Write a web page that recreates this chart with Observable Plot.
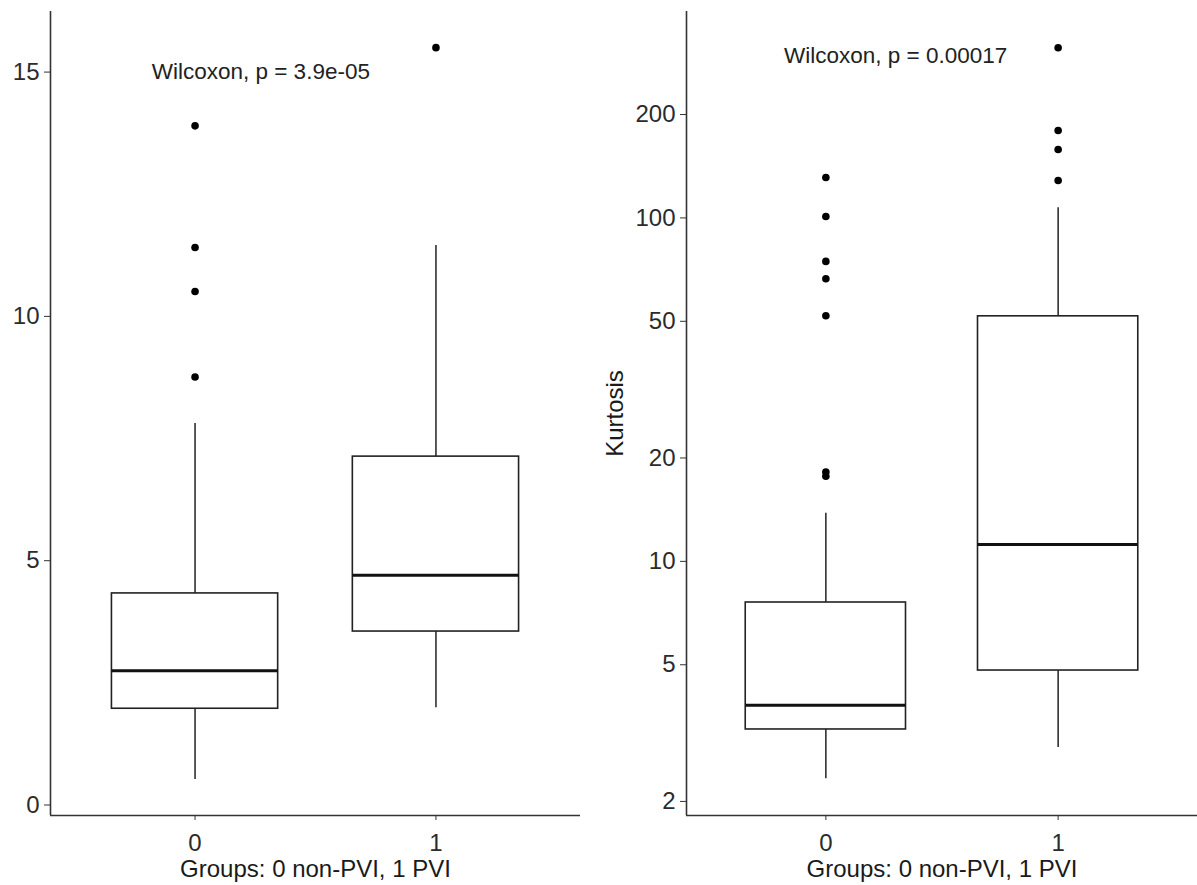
<!DOCTYPE html>
<html><head><meta charset="utf-8">
<script src="https://cdn.jsdelivr.net/npm/d3@7"></script>
<script src="https://cdn.jsdelivr.net/npm/@observablehq/plot@0.6"></script>
<style>
body{margin:0;background:#fff;}
#wrap{position:relative;width:1197px;height:885px;font-family:"Liberation Sans",Arial,sans-serif;background:#fff;}
#left,#right{position:absolute;top:0;}
#left{left:0px}
#right{left:590px}
</style></head><body><div id="wrap"><div id="left"></div><div id="right"></div></div>
<script>
// categories
const groups = [1, 2];
const groupLabels = ["0", "1"];
const xTitle = "Groups: 0 non-PVI, 1 PVI";

// left panel (linear), per group summary statistics
const leftLowerWhisker = [0.52, 1.99];
const leftQ1 = [1.97, 3.55];
const leftMedian = [2.75, 4.70];
const leftQ3 = [4.33, 7.13];
const leftUpperWhisker = [7.81, 11.45];
const leftOutliers0 = [13.90, 11.41, 10.51, 8.76];
const leftOutliers1 = [15.50];
const leftTicks = [0, 5, 10, 15];
const leftLabel = "Wilcoxon, p = 3.9e-05";
const leftLabelY = 15;

// right panel (Kurtosis, log scale)
const rightLowerWhisker = [2.33, 2.87];
const rightQ1 = [3.24, 4.81];
const rightMedian = [3.81, 11.2];
const rightQ3 = [7.59, 51.7];
const rightUpperWhisker = [13.8, 107.0];
const rightOutliers0 = [131.1, 100.9, 74.7, 66.5, 51.9, 18.2, 17.7];
const rightOutliers1 = [312.8, 179.7, 158.2, 128.5];
const rightTicks = [2, 5, 10, 20, 50, 100, 200];
const rightLabel = "Wilcoxon, p = 0.00017";
const rightLabelY = 297;
const rightYTitle = "Kurtosis";

const FONT = '"Liberation Sans", Arial, sans-serif';
const HW = 0.345;
const FS = 24;

function panel({lw, q1, med, q3, uw, outs, ticks, yType, yDomain, label, labelY, yTitle, width, marginLeft, marginRight}) {
  const rows = groups.map((g, i) => ({pos: g, lw: lw[i], q1: q1[i], med: med[i], q3: q3[i], uw: uw[i]}));
  const outRows = [];
  outs.forEach((arr, i) => arr.forEach(v => outRows.push({pos: groups[i], v})));
  const xDomain = [0.4, 2.6];
  const marks = [
    Plot.ruleX(rows, {x: "pos", y1: "q3", y2: "uw", stroke: "#222", strokeWidth: 1.5}),
    Plot.ruleX(rows, {x: "pos", y1: "lw", y2: "q1", stroke: "#222", strokeWidth: 1.5}),
    Plot.rect(rows, {x1: d => d.pos - HW, x2: d => d.pos + HW, y1: "q1", y2: "q3", fill: "white", stroke: "#222", strokeWidth: 1.6}),
    Plot.ruleY(rows, {y: "med", x1: d => d.pos - HW, x2: d => d.pos + HW, stroke: "#111", strokeWidth: 3}),
    Plot.dot(outRows, {x: "pos", y: "v", r: 3.8, fill: "black", stroke: "none"}),
    Plot.text([label], {x: 0.82, y: labelY, text: d => d, textAnchor: "start", lineAnchor: "middle", fontSize: 22.5, fill: "#222", fontFamily: FONT}),
    Plot.ruleX([xDomain[0]], {stroke: "#333", strokeWidth: 1.6}),
    Plot.ruleY([yDomain[0]], {stroke: "#333", strokeWidth: 1.6}),
    Plot.axisY({ticks, tickFormat: d => String(d), tickSize: 6, tickPadding: 5, fontSize: FS, label: null, stroke: "#333", fill: "#2b2b2b"}),
    Plot.axisX({ticks: groups, tickFormat: d => groupLabels[groups.indexOf(d)], tickSize: 5, tickPadding: 13, fontSize: FS, label: null, stroke: "#333", fill: "#2b2b2b"}),
    Plot.text([xTitle], {frameAnchor: "bottom", text: d => d, lineAnchor: "middle", textAnchor: "middle", dy: 54, fontSize: FS, fill: "#1a1a1a", fontFamily: FONT})
  ];
  if (yTitle) {
    marks.push(Plot.text([yTitle], {frameAnchor: "left", text: d => d, rotate: -90, textAnchor: "middle", lineAnchor: "middle", dx: -71, fontSize: FS, fill: "#1a1a1a", fontFamily: FONT}));
  }
  return Plot.plot({
    width, height: 885,
    marginLeft, marginRight, marginTop: 11, marginBottom: 70,
    x: {domain: xDomain, axis: null},
    y: {type: yType, domain: yDomain, axis: null},
    style: {fontFamily: FONT, fontSize: FS + "px", color: "#333", background: "white", overflow: "visible"},
    marks
  });
}

document.getElementById("left").appendChild(panel({
  lw: leftLowerWhisker, q1: leftQ1, med: leftMedian, q3: leftQ3, uw: leftUpperWhisker,
  outs: [leftOutliers0, leftOutliers1], ticks: leftTicks, yType: "linear", yDomain: [-0.215, 16.24],
  label: leftLabel, labelY: leftLabelY, yTitle: null, width: 590, marginLeft: 50, marginRight: 10
}));
document.getElementById("right").appendChild(panel({
  lw: rightLowerWhisker, q1: rightQ1, med: rightMedian, q3: rightQ3, uw: rightUpperWhisker,
  outs: [rightOutliers0, rightOutliers1], ticks: rightTicks, yType: "log", yDomain: [1.82, 399],
  label: rightLabel, labelY: rightLabelY, yTitle: rightYTitle, width: 607, marginLeft: 96, marginRight: 0
}));
</script></body></html>
